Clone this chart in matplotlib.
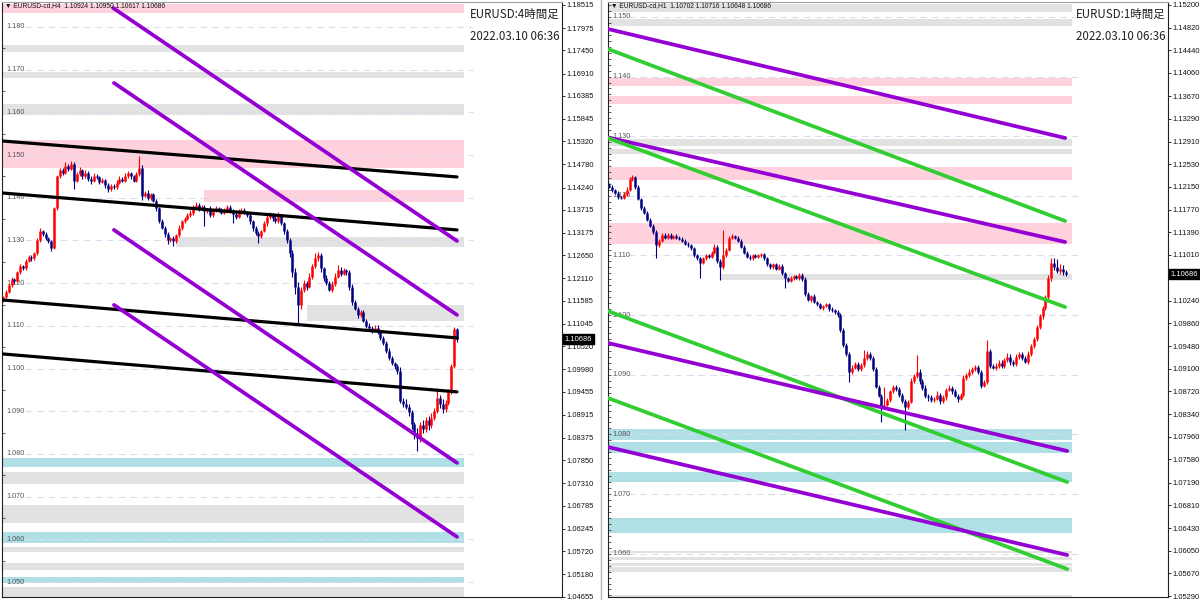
import numpy as np
import matplotlib.pyplot as plt
from matplotlib.lines import Line2D

W, H = 1200, 600
JP = ['Noto Sans CJK JP', 'DejaVu Sans']
SMALL = ['Liberation Sans', 'DejaVu Sans']

BULL, BEAR = '#ff0000', '#000080'
ZONE_COL = {'p': '#ffd1dc', 'g': '#e2e2e2', 'c': '#b0e0e6'}
LINE_COL = {'k': '#000000', 'v': '#9400d3', 'e': '#32cd32'}

# ---------------- H4 panel data ----------------
h4_open0 = 1.1160
h4_close = [
    1.1168, 1.1180, 1.1195, 1.1210, 1.1205, 1.1225, 1.1240, 1.1235, 1.1252, 1.1262, 1.1258, 1.1270, 1.1300, 1.1322, 1.1315, 1.1305, 1.1298, 1.1282,
    1.1375, 1.1450, 1.1465, 1.1458, 1.1475, 1.1468, 1.1480,
    1.1440,
    1.1455, 1.1465, 1.1450, 1.1458, 1.1445, 1.1440, 1.1452, 1.1448, 1.1438, 1.1442, 1.1430, 1.1420, 1.1428, 1.1425, 1.1435, 1.1445, 1.1440, 1.1452, 1.1458, 1.1450, 1.1440, 1.1455,
    1.1470,
    1.1405,
    1.1412, 1.1400, 1.1408, 1.1392, 1.1375,
    1.1345, 1.1330, 1.1315, 1.1300, 1.1305, 1.1298,
    1.1312, 1.1330, 1.1345, 1.1350, 1.1360, 1.1365, 1.1378, 1.1382,
    1.1375, 1.1378, 1.1368, 1.1372, 1.1360, 1.1370, 1.1375, 1.1372, 1.1365, 1.1370, 1.1378, 1.1370, 1.1362, 1.1355, 1.1368, 1.1372, 1.1365, 1.1360,
    1.1345, 1.1330, 1.1318, 1.1310, 1.1322, 1.1340, 1.1355, 1.1362, 1.1352, 1.1345, 1.1358, 1.1340, 1.1322, 1.1300, 1.1270, 1.1225, 1.1190, 1.1150,
    1.1185, 1.1200, 1.1192, 1.1215, 1.1240, 1.1258, 1.1265, 1.1235, 1.1212, 1.1200, 1.1185, 1.1198, 1.1215, 1.1232, 1.1222, 1.1230, 1.1225,
    1.1190, 1.1155, 1.1140, 1.1125, 1.1132, 1.1112, 1.1100, 1.1095, 1.1090, 1.1096, 1.1085, 1.1072, 1.1060, 1.1042, 1.1025, 1.1012, 1.1005, 1.0995,
    1.0925, 1.0918, 1.0910, 1.0898, 1.0870, 1.0850,
    1.0838, 1.0868, 1.0858, 1.0880, 1.0868, 1.0885, 1.0900, 1.0930, 1.0918, 1.0905, 1.0920, 1.0945,
    1.1005, 1.1092, 1.10686,
]
# wick lengths in pips above / below the body
h4_up = [
    3, 4, 3, 5, 3, 4, 4, 3, 5, 3, 4, 4, 6, 8, 3, 4, 3, 3,
    4, 3, 4, 5, 8, 4, 7,
    3,
    5, 6, 3, 8, 4, 5, 6, 4, 3, 5, 3, 4, 5, 4, 6, 5, 3, 7, 4, 3, 4, 6,
    27,
    6,
    5, 6, 4, 3, 5,
    4, 5, 3, 4, 3, 5,
    4, 6, 3, 5, 4, 6, 4, 8,
    6, 4, 5, 3, 8, 4, 5, 3, 4, 6, 5, 4, 3, 6, 5, 3, 4, 5,
    4, 3, 5, 4, 3, 5, 6, 4, 3, 5, 8, 4, 3, 5, 6, 8, 10, 12,
    6, 8, 5, 8, 6, 12, 8, 5, 4, 6, 5, 6, 8, 10, 6, 5, 4,
    5, 8, 6, 5, 6, 5, 4, 6, 5, 6, 5, 4, 5, 4, 6, 5, 4, 5,
    8, 6, 10, 6, 5, 4,
    10, 8, 12, 6, 8, 10, 8, 25, 8, 10, 6, 8,
    6, 5, 3,
]
h4_dn = [
    5, 3, 4, 3, 5, 3, 4, 3, 4, 3, 5, 3, 3, 4, 4, 3, 4, 6,
    3, 4, 3, 4, 3, 5, 3,
    20,
    4, 3, 6, 4, 5, 8, 3, 4, 6, 3, 8, 7, 3, 4, 5, 3, 4, 3, 5, 6, 4, 3,
    4,
    10,
    4, 5, 6, 3, 5,
    5, 4, 6, 8, 4, 12,
    4, 3, 5, 4, 3, 4, 5, 3,
    5, 4, 35, 4, 5, 4, 3, 5, 4, 3, 5, 6, 20, 4, 3, 5, 4, 6,
    6, 8, 5, 15, 4, 3, 5, 4, 6, 5, 3, 4, 6, 5, 8, 10, 15, 44,
    10, 5, 8, 4, 5, 4, 6, 8, 6, 5, 4, 6, 5, 4, 6, 4, 5,
    6, 5, 4, 6, 5, 4, 6, 5, 7, 4, 5, 6, 4, 5, 6, 4, 5, 8,
    6, 8, 5, 10, 12, 15,
    32, 10, 8, 6, 12, 8, 6, 5, 10, 8, 6, 5,
    5, 3, 6,
]
h4_axis_labels = [1.18515, 1.17975, 1.17450, 1.16910, 1.16385, 1.15845, 1.15320, 1.14780,
                  1.14240, 1.13715, 1.13175, 1.12650, 1.12110, 1.11585, 1.11045, 1.10520,
                  1.09980, 1.09455, 1.08915, 1.08375, 1.07850, 1.07310, 1.06785, 1.06245,
                  1.05720, 1.05180, 1.04655]
h4_levels = [1.18, 1.17, 1.16, 1.15, 1.14, 1.13, 1.12, 1.11, 1.10, 1.09, 1.08, 1.07, 1.06, 1.05]
# zones: kind, low, high, first bar (None = from the left edge)
h4_zone_kind = ['p', 'g', 'g', 'g', 'p', 'p', 'g', 'g', 'c', 'g', 'g', 'c', 'g', 'g', 'c', 'g']
h4_zone_lo = [1.1833, 1.1742, 1.1681, 1.1594, 1.1470, 1.1390, 1.1285, 1.1112, 1.0770, 1.0730,
              1.0639, 1.0592, 1.0571, 1.0529, 1.0497, 1.0466]
h4_zone_hi = [1.1854, 1.1758, 1.1695, 1.1620, 1.1535, 1.1418, 1.1308, 1.1149, 1.0791, 1.0758,
              1.0681, 1.0618, 1.0583, 1.0545, 1.0513, 1.0489]
h4_zone_start = [None, None, None, None, None, 71, 61, 107, None, None, None, None, None, None, None, None]
# trend lines: colour, bar0, price0, bar1, price1
h4_line_kind = ['k', 'k', 'k', 'k', 'v', 'v', 'v', 'v']
h4_line_b0 = [-0.4, -0.4, -0.4, -0.4, 38.8, 39.1, 39.1, 39.1]
h4_line_p0 = [1.15331, 1.14113, 1.11608, 1.10344, 1.18445, 1.16689, 1.13247, 1.11491]
h4_line_b1 = [160, 160, 160, 160, 160, 160, 160, 160]
h4_line_p1 = [1.14488, 1.13247, 1.10718, 1.09454, 1.12989, 1.11257, 1.07791, 1.06059]

# ---------------- H1 panel data ----------------
h1_open0 = 1.1218
h1_close = [
    1.1215, 1.1210, 1.1205, 1.1198, 1.1196, 1.1203, 1.1210, 1.1228, 1.1232, 1.1215, 1.1195, 1.1180, 1.1172, 1.1160, 1.1150, 1.1140,
    1.1118, 1.1125, 1.1135, 1.1130, 1.1135, 1.1130, 1.1133, 1.1130, 1.1128, 1.1125, 1.1120, 1.1118, 1.1112, 1.1100, 1.1095, 1.1088, 1.1095, 1.1100, 1.1098, 1.1105, 1.1115, 1.1090, 1.1080,
    1.1100, 1.1110, 1.1130, 1.1133, 1.1130, 1.1125, 1.1115, 1.1105, 1.1098, 1.1095, 1.1100, 1.1098, 1.1100, 1.1102, 1.1095, 1.1085, 1.1080, 1.1085, 1.1078, 1.1083, 1.1070, 1.1062, 1.1058, 1.1062, 1.1065, 1.1062, 1.1068, 1.1060,
    1.1035, 1.1025, 1.1032, 1.1022, 1.1018, 1.1012, 1.1015, 1.1018, 1.1010, 1.1008, 1.1005, 1.1000,
    1.0975, 1.0950, 1.0935, 1.0905, 1.0912, 1.0918, 1.0910, 1.0916, 1.0928, 1.0935, 1.0928, 1.0910, 1.0880, 1.0865,
    1.0848, 1.0850, 1.0858, 1.0872, 1.0880, 1.0876, 1.0866, 1.0856, 1.0846, 1.0855,
    1.0890, 1.0898, 1.0905, 1.0890, 1.0878, 1.0865, 1.0862, 1.0858, 1.0860, 1.0866, 1.0856, 1.0862, 1.0875, 1.0878, 1.0872, 1.0865, 1.0860, 1.0866,
    1.0895, 1.0900, 1.0905, 1.0910, 1.0913, 1.0905, 1.0882, 1.0888, 1.0940, 1.0915, 1.0912, 1.0915,
    1.0920, 1.0915, 1.0925, 1.0930, 1.0922, 1.0918, 1.0930, 1.0935, 1.0928, 1.0922, 1.0935, 1.0948,
    1.0960, 1.0980, 1.0998, 1.1012, 1.1030, 1.1062, 1.1088, 1.1080, 1.1074, 1.1078, 1.1072, 1.10686,
]
h1_up = [
    3, 3, 2, 3, 2, 3, 4, 3, 3, 2, 3, 2, 3, 2, 3, 3,
    3, 3, 2, 3, 2, 3, 2, 3, 2, 3, 2, 3, 2, 3, 2, 3, 3, 2, 3, 3, 5, 3, 4,
    43, 3, 2, 3, 2, 3, 2, 3, 2, 3, 2, 3, 2, 3, 2, 3, 2, 3, 2, 3, 2, 3, 2, 3, 2, 3, 2, 3,
    4, 3, 2, 3, 2, 3, 2, 3, 2, 3, 2, 3,
    3, 3, 3, 3, 4, 3, 3, 4, 14, 5, 3, 3, 3, 3,
    3, 30, 3, 3, 3, 3, 3, 3, 3, 3,
    5, 3, 28, 4, 3, 5, 3, 4, 3, 6, 3, 4, 3, 5, 3, 4, 3, 4,
    4, 3, 5, 3, 4, 3, 3, 4, 18, 4, 3, 4,
    4, 5, 3, 6, 4, 3, 5, 4, 3, 4, 5, 4,
    4, 3, 4, 3, 4, 5, 8, 8, 14, 7, 6, 3,
]
h1_dn = [
    2, 3, 2, 3, 2, 2, 3, 2, 3, 3, 2, 3, 2, 3, 2, 4,
    23, 3, 2, 3, 2, 3, 2, 3, 2, 3, 2, 3, 2, 3, 2, 26, 2, 3, 2, 3, 2, 3, 21,
    3, 2, 3, 2, 3, 2, 3, 2, 3, 2, 3, 2, 3, 2, 3, 2, 3, 2, 3, 2, 3, 17, 3, 2, 3, 2, 3, 2,
    3, 2, 3, 2, 3, 2, 3, 2, 3, 2, 3, 3,
    3, 3, 3, 17, 3, 3, 3, 3, 3, 3, 3, 3, 3, 3,
    27, 3, 3, 3, 3, 3, 3, 3, 39, 3,
    3, 4, 3, 5, 3, 4, 6, 3, 4, 3, 5, 3, 4, 3, 4, 3, 5, 3,
    4, 3, 3, 4, 3, 4, 5, 3, 3, 4, 3, 4,
    3, 4, 3, 4, 5, 3, 4, 3, 4, 3, 4, 3,
    3, 4, 3, 4, 3, 4, 5, 4, 3, 5, 4, 3,
]
# 1.10630 sits under the current-price box in the reference, so it is left out
h1_axis_labels = [1.15200, 1.14820, 1.14440, 1.14060, 1.13670, 1.13290, 1.12910, 1.12530,
                  1.12150, 1.11770, 1.11390, 1.11010, 1.10240, 1.09860, 1.09480,
                  1.09100, 1.08720, 1.08340, 1.07960, 1.07580, 1.07190, 1.06810, 1.06430,
                  1.06050, 1.05670, 1.05290]
h1_levels = [1.15, 1.14, 1.13, 1.12, 1.11, 1.10, 1.09, 1.08, 1.07, 1.06]
h1_zone_kind = ['g', 'g', 'p', 'p', 'g', 'g', 'p', 'p', 'g', 'c', 'c', 'c', 'c', 'g', 'g', 'g', 'g', 'g']
h1_zone_lo = [1.1509, 1.1485, 1.1384, 1.1354, 1.1284, 1.1270, 1.1227, 1.1119, 1.1059, 1.0791,
              1.0769, 1.0720, 1.0635, 1.0601, 1.0589, 1.0580, 1.0569, 1.0528]
h1_zone_hi = [1.1522, 1.1497, 1.1398, 1.1368, 1.1295, 1.1279, 1.1248, 1.1155, 1.1069, 1.0809,
              1.0788, 1.0737, 1.0660, 1.0605, 1.0594, 1.0584, 1.0577, 1.0531]
h1_zone_start = [None, None, None, None, None, None, None, None, 38, None, None, None, None,
                 None, None, None, None, None]
h1_line_kind = ['v', 'e', 'v', 'e', 'e', 'v', 'e', 'v']
h1_line_b0 = [-0.4, -0.4, -0.4, -0.4, -0.4, -0.4, -0.4, -0.4]
h1_line_p0 = [1.14798, 1.14462, 1.12980, 1.12970, 1.10069, 1.09533, 1.08611, 1.07789]
h1_line_b1 = [155.7, 155.7, 155.7, 155.7, 156.4, 156.4, 156.4, 156.4]
h1_line_p1 = [1.12970, 1.11578, 1.11226, 1.10136, 1.07202, 1.07722, 1.05743, 1.05978]


def panel(left_px, ylim, first_px, last_px, zone_end_px, grid_px, open0, close, up, dn,
          zkind, zlo, zhi, zstart, lkind, lb0, lp0, lb1, lp1, levels, axis_labels,
          minor, header, title, stamp):
    ax = fig.add_axes([left_px / W, 3 / H, 560 / W, 595 / H])
    n = min(len(close), len(up), len(dn))
    c = np.array(close[:n])
    o = np.r_[open0, c[:-1]]
    hi = np.maximum(o, c) + np.array(up[:n]) * 1e-4
    lo = np.minimum(o, c) - np.array(dn[:n]) * 1e-4
    x = np.arange(n)
    s = (last_px - first_px) / (n - 1)
    x0 = -(first_px - left_px) / s
    ax.set_xlim(x0, x0 + 560 / s)
    ax.set_ylim(*ylim)
    zend = (zone_end_px - first_px) / s

    for k, a, b, st in zip(zkind, zlo, zhi, zstart):
        ax.fill_between([x0 if st is None else st, zend], a, b, color=ZONE_COL[k], lw=0, zorder=0.5)

    g0, g1 = [(p - first_px) / s for p in grid_px]
    ax.hlines(levels, g0, g1, colors='#dcdcf0', lw=0.8, linestyles=(0, (6, 4.5)), zorder=1)
    ytr = ax.get_yaxis_transform()
    for lv in levels:
        ax.text(0.007, lv, f'{lv:.3f}', transform=ytr, fontsize=5.2, color='#555555',
                va='center', ha='left', family=SMALL, zorder=1.5)
    ax.hlines(minor, 0, 0.005, transform=ytr, colors='#444444', lw=0.6, zorder=1.5)

    col = np.where(c >= o, BULL, BEAR)
    ax.vlines(x, lo, hi, colors=col, lw=0.8, zorder=2)
    bl = np.minimum(o, c)
    bh = np.maximum(np.maximum(o, c), bl + 0.00006)
    ax.vlines(x, bl, bh, colors=col, lw=1.8, zorder=2.1)

    for k, b0, p0, b1, p1 in zip(lkind, lb0, lp0, lb1, lp1):
        ax.plot([b0, b1], [p0, p1], color=LINE_COL[k], lw=2.3 if k == 'k' else 2.7,
                solid_capstyle='round', zorder=3)

    ax.yaxis.tick_right()
    ax.set_yticks(axis_labels)
    ax.set_yticklabels([f'{v:.5f}' for v in axis_labels])
    for lab in ax.get_yticklabels():
        lab.set_family(SMALL)
    ax.tick_params(axis='y', length=2, width=0.6, pad=1.5, labelsize=5.4, colors='#111111')
    ax.set_xticks([])
    for side in ('left', 'bottom', 'right'):
        ax.spines[side].set_color('#222222')
        ax.spines[side].set_linewidth(0.8)
    ax.spines['top'].set_color('#a0a0a0')

    last = c[-1]
    ax.text(1.005, last, f'{last:.5f}', transform=ytr, fontsize=5.4, color='white', va='center',
            ha='left', family=SMALL, zorder=10, clip_on=False,
            bbox=dict(boxstyle='square,pad=0.2', fc='black', ec='black'))
    ax.text(0.006, 1 - 4 / 595, header, transform=ax.transAxes, fontsize=4.8, va='center',
            ha='left', family=SMALL, color='#111111', zorder=6)
    ax.text(0.996, 1 - 12 / 595, title, transform=ax.transAxes, fontsize=8.3, va='center',
            ha='right', family=JP, color='#222222', zorder=6)
    ax.text(0.996, 1 - 35 / 595, stamp, transform=ax.transAxes, fontsize=8.3, va='center',
            ha='right', family=JP, color='#222222', zorder=6)
    return ax


fig = plt.figure(figsize=(12, 6), dpi=100)
fig.patch.set_facecolor('white')

panel(2, (1.0465, 1.18585), 3, 457, 464, (25, 473), h4_open0, h4_close, h4_up, h4_dn,
      h4_zone_kind, h4_zone_lo, h4_zone_hi, h4_zone_start,
      h4_line_kind, h4_line_b0, h4_line_p0, h4_line_b1, h4_line_p1,
      h4_levels, h4_axis_labels, np.arange(1.055, 1.18, 0.01),
      '▼ EURUSD-cd,H4  1.10924 1.10950 1.10617 1.10686', 'EURUSD:4時間足', '2022.03.10 06:36')

panel(608, (1.05274, 1.1525), 609, 1066, 1072, (628, 1078), h1_open0, h1_close, h1_up, h1_dn,
      h1_zone_kind, h1_zone_lo, h1_zone_hi, h1_zone_start,
      h1_line_kind, h1_line_b0, h1_line_p0, h1_line_b1, h1_line_p1,
      h1_levels, h1_axis_labels, np.arange(1.053, 1.1525, 0.001),
      '▼ EURUSD-cd,H1  1.10702 1.10716 1.10648 1.10686', 'EURUSD:1時間足', '2022.03.10 06:36')

fig.add_artist(Line2D([601 / W, 601 / W], [0, 1], color='#b4b4b4', lw=1))

fig.savefig('out.png', dpi=100, facecolor='white')
